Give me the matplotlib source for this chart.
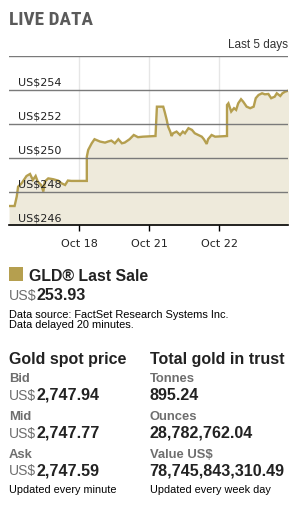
import matplotlib
matplotlib.use('Agg')
from matplotlib import pyplot as plt
from matplotlib import font_manager
import numpy as np

# trading-day index (0 = Oct 17 open) and GLD price
days = [0.00, 0.08, 0.11, 0.13, 0.18, 0.25, 0.30, 0.34, 0.38, 0.41, 0.46, 0.49, 0.51,
        0.56, 0.63, 0.70, 0.75, 0.80, 0.84, 0.89, 1.11, 1.11, 1.13, 1.18, 1.22, 1.30,
        1.37, 1.41, 1.46, 1.51, 1.56, 1.61, 1.65, 1.72, 1.78, 1.84, 1.91, 2.09, 2.11,
        2.20, 2.22, 2.25, 2.27, 2.30, 2.32, 2.34, 2.39, 2.44, 2.48, 2.51, 2.56, 2.61,
        2.65, 2.70, 2.75, 2.78, 2.82, 2.84, 2.89, 2.94, 3.11, 3.11, 3.13, 3.17, 3.21,
        3.24, 3.27, 3.31, 3.34, 3.39, 3.44, 3.49, 3.52, 3.56, 3.61, 3.65, 3.70, 3.74,
        3.79, 3.82, 3.87, 3.90, 3.94, 3.99]
prices = [247.15, 247.15, 247.70, 248.29, 248.49, 248.92, 249.04, 248.69, 248.92, 248.59,
          248.39, 248.00, 248.59, 248.78, 248.73, 248.65, 248.49, 248.39, 248.65, 248.63,
          248.63, 250.06, 250.46, 250.85, 251.09, 250.95, 250.89, 250.95, 251.01, 250.85,
          251.09, 250.85, 250.89, 251.09, 251.34, 251.21, 251.24, 251.28, 253.01, 253.01,
          252.72, 252.23, 251.83, 251.54, 251.28, 251.44, 251.54, 251.34, 251.54, 251.44,
          251.74, 251.64, 251.44, 251.34, 251.24, 251.09, 250.81, 251.09, 251.34, 251.24,
          251.28, 253.11, 253.21, 252.72, 252.92, 252.82, 253.21, 253.45, 253.31, 253.01,
          252.92, 253.01, 253.51, 253.70, 253.80, 253.74, 253.76, 253.51, 253.60, 253.80,
          253.64, 253.80, 253.90, 253.96]
tick_pos = [1, 2, 3]
tick_labels = ['Oct 18', 'Oct 21', 'Oct 22']
y_levels = [246, 248, 250, 252, 254]

last_sale = '253.93'
spot_labels = ['Bid', 'Mid', 'Ask']
spot_values = ['2,747.94', '2,747.77', '2,747.59']
trust_labels = ['Tonnes', 'Ounces', 'Value US$']
trust_values = ['895.24', '28,782,762.04', '78,745,843,310.49']

W, H = 299, 511
GOLD = '#b59f4f'
FILL = '#eeeadb'
DARK = '#222222'
GREY = '#6e6e6e'

names = {f.name for f in font_manager.fontManager.ttflist}
SANS = ['Liberation Sans', 'DejaVu Sans']
narrow = [n for n in ['Liberation Sans Narrow', 'DejaVu Sans Condensed', 'Roboto Condensed',
                      'Roboto'] if n in names] + ['DejaVu Sans']

fig = plt.figure(figsize=(W / 100, H / 100), dpi=100)
fig.patch.set_facecolor('white')

# chart area
ax = fig.add_axes([9 / W, 1 - 225.5 / H, (288 - 9) / W, (225.5 - 56) / H])
ax.fill_between(days, prices, 240, color=FILL, linewidth=0)
ax.plot(days, prices, color=GOLD, linewidth=1.7, solid_joinstyle='miter')
ax.set_xlim(0, 3.98)
ax.set_ylim(246, 256)
for lv in y_levels[1:] + [256]:
    ax.axhline(lv, color='#7a7a7a', linewidth=1, zorder=3)
for tp in tick_pos:
    ax.axvline(tp, color='#e6e6e6', linewidth=1, zorder=0)
for s in ['left', 'right', 'top']:
    ax.spines[s].set_visible(False)
ax.spines['bottom'].set_color('black')
ax.spines['bottom'].set_linewidth(1.2)
ax.spines['bottom'].set_zorder(4)
ax.set_yticks([])
ax.set_xticks(tick_pos)
ax.set_xticklabels(tick_labels, family='DejaVu Sans', fontsize=8, color=DARK)
ax.tick_params(axis='x', length=4, width=1, color='black', pad=6)
for lv in y_levels:
    ax.text(9.3 / 279, lv + 0.12, f'US${lv}', transform=ax.get_yaxis_transform(),
            family='DejaVu Sans', fontsize=8, color=DARK, va='bottom', ha='left', zorder=5)


def px(x, y):
    return x / W, 1 - y / H


def txt(x, y, s, size, color=DARK, weight='normal', family=SANS, ha='left'):
    return fig.text(*px(x, y), s, fontsize=size, color=color, fontweight=weight,
                    family=family, ha=ha, va='baseline')


fig.canvas.draw()
renderer = fig.canvas.get_renderer()


def money(x, y, value, size, usize):
    t = txt(x, y, 'US$', usize, color=GREY)
    w = t.get_window_extent(renderer).width
    txt(x + w, y, value, size, weight='bold')


title = txt(9, 25, 'LIVE DATA', 16, color='#5a5a5a', weight='bold', family=narrow)
# shrink the title to the width used in the reference if no narrow face exists
tw = title.get_window_extent(renderer).width
if tw > 86:
    title.set_fontsize(16 * 84 / tw)
txt(288, 48.3, 'Last 5 days', 8.5, color='#333333', ha='right')

fig.patches.append(plt.Rectangle(px(9, 281), 14 / W, 14 / H, transform=fig.transFigure,
                                 facecolor=GOLD, edgecolor='none'))
txt(29, 281, 'GLD® Last Sale', 11.4, weight='bold')
money(9, 300, last_sale, 11.6, 10.2)
txt(9, 318.3, 'Data source: FactSet Research Systems Inc.', 7.9, color='black')
txt(9, 328.3, 'Data delayed 20 minutes.', 7.9, color='black')

txt(9, 364.3, 'Gold spot price', 11.5, weight='bold')
txt(149.7, 364.3, 'Total gold in trust', 11.5, weight='bold')
for i in range(3):
    yl = 381.7 + i * 37.9
    yv = 400 + i * 37.7
    txt(9, yl, spot_labels[i], 9.4, color=GREY, weight='bold')
    money(9, yv, spot_values[i], 11.6, 10.0)
    txt(149.7, yl, trust_labels[i], 9.4, color=GREY, weight='bold')
    txt(149.7, yv, trust_values[i], 11.6, weight='bold')
txt(9, 493.3, 'Updated every minute', 7.8, color='black')
txt(149.7, 493.3, 'Updated every week day', 7.8, color='black')

plt.savefig('out.png', dpi=100)
plt.close()
